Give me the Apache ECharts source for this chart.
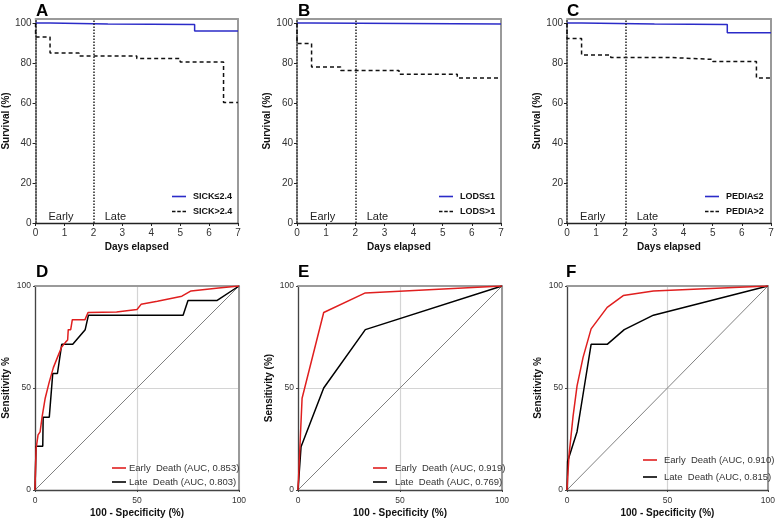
<!DOCTYPE html>
<html><head><meta charset="utf-8">
<script src="https://cdn.jsdelivr.net/npm/echarts@6/dist/echarts.min.js"></script>
<style>html,body{margin:0;padding:0;background:#fff}#c{width:778px;height:519px}</style>
</head><body><div id="c"></div>
<script>
// ---------- DATA ----------
const dayTicks = [0, 1, 2, 3, 4, 5, 6, 7];
const survTicks = [0, 20, 40, 60, 80, 100];
const rocTicks = [0, 50, 100];
const panelLetters = ['A', 'B', 'C', 'D', 'E', 'F'];
const periodLabels = ['Early', 'Late'];

// Panel A (SICK)
const sickLowName = 'SICK\u22642.4', sickHighName = 'SICK>2.4';
const sickLowT = [0, 0.5, 2.5, 5.5, 7];
const sickLowS = [100, 99.5, 99.2, 96, 96];
const sickHighT = [0, 0, 0.5, 1.5, 3.5, 5, 6.5, 7];
const sickHighS = [100, 93, 85, 83.5, 82.3, 80.5, 60.3, 60.3];
// Panel B (LODS)
const lodsLowName = 'LODS\u22641', lodsHighName = 'LODS>1';
const lodsLowT = [0, 0.5, 7];
const lodsLowS = [100, 99.5, 99.5];
const lodsHighT = [0, 0, 0.5, 1.5, 3.5, 5.5, 7];
const lodsHighS = [100, 89.8, 78, 76.3, 74.4, 72.5, 72.5];
// Panel C (PEDIA)
const pediaLowName = 'PEDIA\u22642', pediaHighName = 'PEDIA>2';
const pediaLowT = [0, 0.5, 3, 5.5, 7];
const pediaLowS = [100, 99.5, 99.2, 95.1, 95.1];
const pediaHighT = [0, 0, 0.5, 1.5, 3.5, 5, 6.5, 7];
const pediaHighS = [100, 92.3, 84, 82.8, 81.8, 80.7, 72.5, 72.5];

// Panel D (ROC SICK)
const dEarlyName = 'Early  Death (AUC, 0.853)', dLateName = 'Late  Death (AUC, 0.803)';
const dEarlyX = [0, 0.5, 1.5, 2.5, 3.5, 5, 7, 9, 11, 13, 15, 16, 16.3, 17.5, 18.3, 24.5, 26, 40, 50, 52, 60, 72, 76.5, 90, 100];
const dEarlyY = [0, 20, 27, 28.5, 36, 45, 53, 60, 65, 70, 72.5, 73.5, 78.6, 78.6, 83.5, 83.5, 87, 87.3, 88.5, 91, 92.5, 95, 97.6, 99, 100];
const dLateX = [0, 0.5, 3.8, 4, 7, 8.7, 11, 13.1, 18.5, 24.6, 26.2, 72.6, 75, 89.3, 100];
const dLateY = [0, 21.4, 21.4, 35.7, 35.7, 57.1, 57.1, 71.4, 71.4, 78.6, 85.7, 85.7, 92.9, 92.9, 100];
// Panel E (ROC LODS)
const eEarlyName = 'Early  Death (AUC, 0.919)', eLateName = 'Late  Death (AUC, 0.769)';
const eEarlyX = [0, 2, 12.6, 33, 100];
const eEarlyY = [0, 45, 87, 96.6, 100];
const eLateX = [0, 1.5, 12.6, 33, 100];
const eLateY = [0, 21.2, 50, 78.6, 100];
// Panel F (ROC PEDIA)
const fEarlyName = 'Early  Death (AUC, 0.910)', fLateName = 'Late  Death (AUC, 0.815)';
const fEarlyX = [0, 1, 3, 5, 8, 12, 20, 28, 43, 100];
const fEarlyY = [0, 17, 36, 51, 65, 79, 89.5, 95.3, 97.6, 100];
const fLateX = [0, 0.3, 5, 8.5, 12, 20, 28.5, 43, 100];
const fLateY = [0, 14, 28.6, 50, 71.4, 71.4, 78.6, 85.7, 100];
// chance diagonal
const refX = [0, 100];
const refY = [0, 100];

// ---------- LAYOUT / STYLE ----------
const FONT = 'Liberation Sans, Arial, Helvetica, sans-serif';
const zip = (a, b) => a.map((v, i) => [v, b[i]]);
const topLefts = [35, 297, 567], botLefts = [35, 298, 567];
const W = 204, TOP_T = 19, TOP_H = 204, BOT_T = 286, BOT_H = 204;
const FRAME = '#9a9a9a';
const ICON_SOLID = 'path://M0,0H14V1.6H0Z';
const ICON_DASH = 'path://M0,0H3.5V1.6H0Z M5.25,0H8.75V1.6H5.25Z M10.5,0H14V1.6H10.5Z';

const grids = [], xAxes = [], yAxes = [], series = [], legends = [];
for (let i = 0; i < 3; i++) grids.push({ left: topLefts[i], top: TOP_T, width: i === 0 ? 203 : W, height: TOP_H });
for (let i = 0; i < 3; i++) grids.push({ left: botLefts[i], top: BOT_T, width: W, height: BOT_H });

const survNames = ['Survival (%)', 'Survival (%)', 'Survival (%)'];
const sensNames = ['Sensitivity %', 'Sensitivity (%)', 'Sensitivity %'];

// main axes
for (let i = 0; i < 3; i++) {
  xAxes.push({
    type: 'value', gridIndex: i, min: 0, max: 7, interval: 1,
    name: 'Days elapsed', nameLocation: 'middle', nameGap: 19,
    nameTextStyle: { fontFamily: FONT, fontWeight: 'bold', fontSize: 10, color: '#111' },
    axisLine: { show: true, onZero: false, lineStyle: { color: '#222', width: 1.3 } },
    axisTick: { show: true, length: 3, lineStyle: { color: '#222' } },
    axisLabel: { fontFamily: FONT, fontSize: 10, color: '#333', margin: 5, customValues: dayTicks },
    splitLine: { show: false }
  });
  yAxes.push({
    type: 'value', gridIndex: i, min: 0, max: 102, interval: 20,
    name: survNames[i], nameLocation: 'middle', nameGap: 20,
    nameTextStyle: { fontFamily: FONT, fontWeight: 'bold', fontSize: 10, color: '#111' },
    axisLine: { show: true, onZero: false, lineStyle: { color: '#222', width: 1.5, type: [1.5, 1.5] } },
    axisTick: { show: true, length: 3, lineStyle: { color: '#222' }, customValues: survTicks },
    axisLabel: { fontFamily: FONT, fontSize: 10, color: '#333', margin: 4, customValues: survTicks,
      formatter: v => (v % 20 === 0 ? String(v) : '') },
    splitLine: { show: false }
  });
}
for (let i = 0; i < 3; i++) {
  const g = 3 + i;
  xAxes.push({
    type: 'value', gridIndex: g, min: 0, max: 100, interval: 50,
    name: '100 - Specificity (%)', nameLocation: 'middle', nameGap: 18,
    nameTextStyle: { fontFamily: FONT, fontWeight: 'bold', fontSize: 10, color: '#111' },
    axisLine: { show: true, onZero: false, lineStyle: { color: '#444', width: 1.3 } },
    axisTick: { show: true, length: 2, lineStyle: { color: '#444' } },
    axisLabel: { fontFamily: FONT, fontSize: 8.5, color: '#333', margin: 6, customValues: rocTicks },
    splitLine: { show: true, lineStyle: { color: '#d4d4d4', width: 1.2 } }
  });
  yAxes.push({
    type: 'value', gridIndex: g, min: 0, max: 100, interval: 50,
    name: sensNames[i], nameLocation: 'middle', nameGap: 24,
    nameTextStyle: { fontFamily: FONT, fontWeight: 'bold', fontSize: 10, color: '#111' },
    axisLine: { show: true, onZero: false, lineStyle: { color: '#444', width: 1.3 } },
    axisTick: { show: true, length: 2, lineStyle: { color: '#444' } },
    axisLabel: { fontFamily: FONT, fontSize: 8.5, color: '#333', margin: 4, customValues: rocTicks },
    splitLine: { show: true, lineStyle: { color: '#d4d4d4', width: 1.2 } }
  });
}
// frame axes (top & right)
for (let g = 0; g < 6; g++) {
  const isTop = g < 3;
  xAxes.push({ type: 'value', gridIndex: g, position: 'top', min: 0, max: isTop ? 7 : 100,
    axisLine: { show: true, onZero: false, lineStyle: { color: FRAME, width: 2 } },
    axisTick: { show: false }, axisLabel: { show: false }, splitLine: { show: false } });
  yAxes.push({ type: 'value', gridIndex: g, position: 'right', min: 0, max: isTop ? 102 : 100,
    axisLine: { show: true, onZero: false, lineStyle: { color: FRAME, width: 2 } },
    axisTick: { show: false }, axisLabel: { show: false }, splitLine: { show: false } });
}

// KM series
const km = [
  [sickLowName, sickLowT, sickLowS, sickHighName, sickHighT, sickHighS],
  [lodsLowName, lodsLowT, lodsLowS, lodsHighName, lodsHighT, lodsHighS],
  [pediaLowName, pediaLowT, pediaLowS, pediaHighName, pediaHighT, pediaHighS]
];
const kmLegendPos = [[172, 192], [439, 192], [705, 192]];
km.forEach((p, i) => {
  series.push({ name: p[0], type: 'line', xAxisIndex: i, yAxisIndex: i, step: 'end', symbol: 'none',
    data: zip(p[1], p[2]), lineStyle: { color: '#2b2bc8', width: 1.5 }, itemStyle: { color: '#2b2bc8' }, z: 3 });
  series.push({ name: p[3], type: 'line', xAxisIndex: i, yAxisIndex: i, step: 'end', symbol: 'none',
    data: zip(p[4], p[5]), lineStyle: { color: '#111', width: 1.5, type: [4, 3] }, itemStyle: { color: '#111' }, z: 3,
    markLine: { silent: true, symbol: ['none', 'none'], label: { show: false },
      lineStyle: { color: '#222', width: 1.5, type: [1.5, 1.5] }, data: [{ xAxis: 2 }] } });
  legends.push({ data: [{ name: p[0], icon: ICON_SOLID }, { name: p[3], icon: ICON_DASH }],
    orient: 'vertical', left: kmLegendPos[i][0], top: kmLegendPos[i][1],
    itemWidth: 14, itemHeight: 10, itemGap: 6, padding: 0, selectedMode: false,
    textStyle: { fontFamily: FONT, fontSize: 9, fontWeight: 'bold', color: '#111', padding: [0, 0, 0, 2] } });
});

// ROC series
const roc = [
  [dEarlyName, dEarlyX, dEarlyY, dLateName, dLateX, dLateY],
  [eEarlyName, eEarlyX, eEarlyY, eLateName, eLateX, eLateY],
  [fEarlyName, fEarlyX, fEarlyY, fLateName, fLateX, fLateY]
];
const rocLegendPos = [[112, 463, 4, -2], [373, 463, 4, 3], [643, 455, 7, 2]];
roc.forEach((p, i) => {
  const g = 3 + i;
  series.push({ type: 'line', xAxisIndex: g, yAxisIndex: g, symbol: 'none', silent: true,
    data: zip(refX, refY), lineStyle: { color: '#808080', width: 1 }, z: 2 });
  series.push({ name: p[3], type: 'line', xAxisIndex: g, yAxisIndex: g, symbol: 'none',
    data: zip(p[4], p[5]), lineStyle: { color: '#000', width: 1.5 }, itemStyle: { color: '#000' }, z: 3 });
  series.push({ name: p[0], type: 'line', xAxisIndex: g, yAxisIndex: g, symbol: 'none',
    data: zip(p[1], p[2]), lineStyle: { color: '#e01f1f', width: 1.5 }, itemStyle: { color: '#e01f1f' }, z: 4 });
  const lp = rocLegendPos[i];
  legends.push({ data: [{ name: p[0], icon: ICON_SOLID }, { name: p[3], icon: ICON_SOLID }],
    orient: 'vertical', left: lp[0], top: lp[1],
    itemWidth: 14, itemHeight: 10, itemGap: lp[2], padding: 0, selectedMode: false,
    textStyle: { fontFamily: FONT, fontSize: 9.5, color: '#333', padding: [0, 0, 0, lp[3]] } });
});

const chart = echarts.init(document.getElementById('c'), null, { renderer: 'canvas' });
chart.setOption({
  backgroundColor: '#fff', animation: false,
  grid: grids, xAxis: xAxes, yAxis: yAxes, series: series, legend: legends
});

// panel letters & Early/Late annotations (positioned from the axes)
const graphics = [];
const letterPos = [[36, 11], [298, 11], [567, 11], [36, 272], [298, 272], [566, 272]];
panelLetters.forEach((L, i) => graphics.push({ type: 'text', x: letterPos[i][0], y: letterPos[i][1],
  style: { text: L, font: 'bold 17px ' + FONT, fill: '#000', verticalAlign: 'middle' } }));
for (let i = 0; i < 3; i++) {
  const pe = chart.convertToPixel({ xAxisIndex: i, yAxisIndex: i }, [0.88, 3]);
  const pl = chart.convertToPixel({ xAxisIndex: i, yAxisIndex: i }, [2.76, 3]);
  [pe, pl].forEach((p, k) => graphics.push({ type: 'text', x: p[0], y: p[1],
    style: { text: periodLabels[k], font: '11px ' + FONT, fill: '#222', align: 'center', verticalAlign: 'middle' } }));
}
chart.setOption({ graphic: graphics });
</script></body></html>
